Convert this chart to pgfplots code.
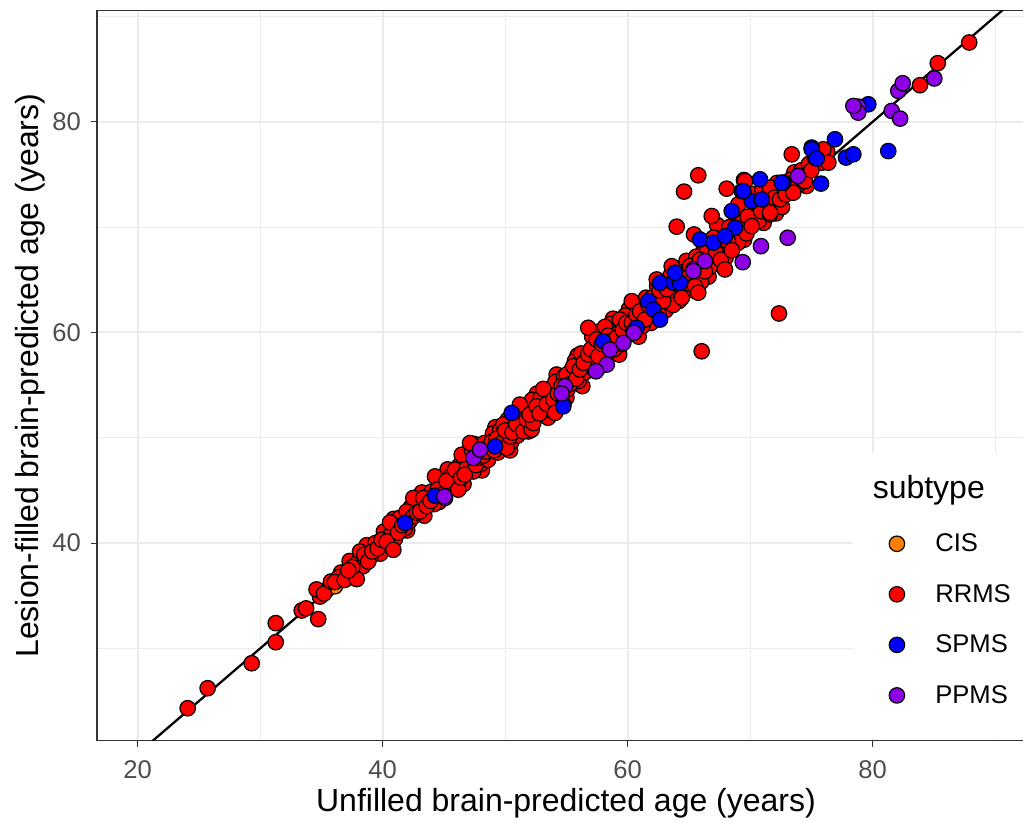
\documentclass[border=0pt]{standalone}
\usepackage{pgfplots}
\pgfplotsset{compat=1.18}
\usepackage{fontspec}
\setmainfont{Liberation Sans}
\definecolor{gridc}{HTML}{EBEBEB}
\definecolor{cisc}{HTML}{FF7F00}
\definecolor{rrc}{HTML}{FF0000}
\definecolor{spc}{HTML}{0000FF}
\definecolor{ppc}{HTML}{8C00E6}
\definecolor{framec}{HTML}{333333}
\definecolor{tickc}{HTML}{4D4D4D}
\begin{document}
\begin{tikzpicture}
\begin{axis}[
  scale only axis, width=703.5pt, height=547.5pt,
  at={(0,0)}, anchor=south west,
  xmin=16.678, xmax=93.25, ymin=21.24, ymax=90.55,
  xtick={20,40,60,80}, ytick={40,60,80},
  minor xtick={30,50,70,90}, minor ytick={30,50,70,90},
  grid=both,
  major grid style={color=gridc, line width=1.5pt},
  minor grid style={color=gridc, line width=0.8pt},
  tick pos=left,
  tick align=outside, major tick length=4.5pt, minor tick length=0pt,
  tick style={color=framec, line width=0.8pt},
  axis line style={color=framec, line width=0.8pt},
  ticklabel style={font=\fontsize{19.2}{20}\selectfont, text=tickc},
  xticklabel style={yshift=-7pt},
  yticklabel style={xshift=-4pt},
  /pgf/number format/assume math mode=true,
  xlabel={Unfilled brain-predicted age (years)},
  ylabel={Lesion-filled brain-predicted age (years)},
  label style={font=\fontsize{24}{28}\selectfont},
  xlabel style={at={(axis description cs:0.5,-0.0853)}, anchor=center},
  ylabel style={at={(axis description cs:-0.0714,0.5)}, anchor=center},
  legend style={at={(axis description cs:0.84,0.291)}, anchor=north west, draw=none, fill=none,
    font=\fontsize{19.2}{20}\selectfont, row sep=19pt,
    /tikz/every odd column/.append style={column sep=21pt}},
  legend cell align=left,
  legend image code/.code={\draw[#1] plot coordinates {(0pt,0pt)};},
  scatter/.style={only marks, mark=*, mark size=5.8pt, line width=0.9pt, draw=black},
]
\addplot[black, line width=1.7pt, no markers, forget plot] coordinates {(15,15) (95,95)};

\addplot[scatter, fill=cisc] coordinates {
(35.43,35.56) (48.76,48.39) (36.10,35.90)
};
\addlegendentry{CIS}

\addplot[scatter, fill=rrc] coordinates {
(37.30,38.30) (38.70,39.80) (39.80,39.00) (40.90,42.30) (42.00,41.20) (43.20,44.80)
(44.60,43.90) (45.30,47.00) (46.60,45.60) (47.50,49.40) (48.10,46.90) (49.20,51.00)
(50.40,48.80) (51.10,52.60) (51.90,50.60) (52.60,54.20) (53.50,51.90) (54.20,56.00)
(55.00,53.80) (55.90,57.80) (56.30,54.90) (57.10,59.60) (57.80,56.80) (58.80,61.30)
(59.30,57.90) (60.10,62.20) (60.90,59.60) (61.30,62.90) (61.90,60.90) (62.40,64.40)
(63.10,62.10) (63.50,65.40) (64.20,63.00) (64.80,66.80) (65.30,64.00) (66.20,68.30)
(66.60,65.30) (67.30,70.20) (68.00,67.10) (68.90,71.20) (69.50,68.80) (70.60,73.00)
(71.10,70.40) (72.10,71.30) (73.60,75.20) (74.60,73.90)
(36.60,37.20) (37.00,36.90) (38.00,38.20) (38.40,37.80) (39.00,38.70) (39.40,40.00)
(40.10,41.10) (40.50,40.60) (41.00,40.40) (41.40,42.40) (41.80,41.40) (42.30,43.40)
(43.00,43.70) (43.40,42.60) (44.00,44.90) (44.20,43.70) (44.70,45.70) (45.00,44.90)
(45.60,46.40) (46.00,45.70) (46.20,47.30) (46.90,47.90) (47.40,46.80) (47.70,48.80)
(48.00,47.50) (48.30,49.50) (48.60,47.90) (49.00,50.40) (49.40,48.60) (49.60,50.80)
(50.20,51.70) (50.50,49.60) (50.80,52.00) (51.00,50.20) (51.40,51.90) (51.80,52.80)
(52.20,53.60) (52.40,51.90) (52.90,53.80) (53.20,52.60) (53.60,54.60) (53.80,53.00)
(54.10,55.30) (54.40,53.60) (54.80,55.80) (55.10,54.60) (55.40,56.40) (55.70,57.30)
(56.00,55.40) (56.20,58.00) (56.50,56.20) (56.90,57.30) (57.20,56.60) (57.40,58.40)
(57.70,60.10) (58.00,57.60) (58.30,58.60) (58.60,60.80) (58.90,58.40) (59.20,59.90)
(59.50,58.90) (59.80,61.60) (60.00,59.80) (60.50,60.10) (60.80,62.40) (61.20,60.60)
(61.50,63.30) (61.80,61.60) (62.20,62.30) (62.50,61.80) (62.80,64.50) (63.00,63.20)
(63.40,63.80) (63.70,62.60) (64.10,64.60) (64.30,65.70) (64.90,64.70) (65.20,65.50)
(65.60,67.20) (66.00,64.80) (66.50,67.80) (66.70,66.20) (67.00,69.00) (67.40,68.30)
(67.80,67.60) (68.30,70.00) (68.70,69.20) (69.00,68.50) (69.30,70.40) (69.70,69.40)
(70.00,73.20) (70.30,71.10) (70.70,70.60) (71.00,73.50) (71.30,72.10) (71.80,72.20)
(72.20,74.20) (72.60,71.90) (73.00,73.80) (73.30,74.50) (73.80,73.90) (74.20,75.40)
(74.80,76.00) (75.40,77.00) (75.80,76.10) (76.30,77.10)
(24.08,24.32) (25.71,26.22) (29.31,28.59) (31.27,30.59) (31.27,32.40) (33.39,33.60)
(33.75,33.80) (34.74,32.78) (34.88,34.92) (34.60,35.60) (35.20,35.20) (35.78,36.35)
(36.43,36.77) (36.10,36.30) (36.90,36.50) (37.88,36.58) (37.52,37.72) (37.20,37.40)
(38.15,39.20) (38.50,38.90) (38.82,38.25) (39.15,39.20) (39.60,39.50) (39.90,40.30)
(40.33,40.15) (40.87,39.36) (40.60,41.96) (41.27,41.00) (41.60,41.70) (41.96,43.00)
(42.20,42.10) (42.50,44.28) (42.50,42.53) (42.80,42.90) (43.05,43.00) (43.31,44.28)
(43.60,43.50) (43.90,44.00) (44.27,46.33) (44.50,45.10) (44.80,44.60) (45.50,45.38)
(45.20,45.90) (45.90,46.97) (46.17,45.07) (46.40,46.20) (46.86,47.13) (46.45,48.39)
(46.70,46.50) (47.27,48.87) (47.13,49.50) (47.60,47.40) (47.80,48.10) (48.20,48.30)
(48.50,49.00) (48.40,48.70) (48.90,49.60) (49.10,48.80) (49.30,49.90) (49.71,49.50)
(50.12,49.03) (50.39,50.13) (49.84,51.24) (50.00,50.70) (50.60,50.50) (50.90,51.30)
(51.48,50.60) (51.20,53.15) (51.76,51.72) (52.16,50.77) (52.29,51.40) (52.00,52.20)
(52.57,52.98) (52.80,52.30) (53.11,54.64) (53.40,53.20) (53.93,53.62) (54.07,52.36)
(54.30,54.20) (54.60,54.90) (55.02,56.00) (55.30,55.10) (55.56,56.79) (55.80,55.60)
(56.10,56.47) (56.40,57.10) (56.78,57.90) (56.78,60.44) (57.00,58.40) (57.47,59.33)
(57.60,57.74) (57.90,58.90) (58.15,60.53) (58.40,59.70) (58.70,59.20) (59.10,59.49)
(59.37,61.22) (59.60,60.20) (59.90,60.90) (60.33,60.91) (60.33,62.97) (60.70,61.70)
(61.00,62.00) (61.41,61.22) (61.70,62.60) (62.00,63.30) (62.37,65.03) (62.90,62.97)
(62.60,64.00) (63.20,64.10) (63.59,66.29) (63.80,65.00) (64.00,70.04) (64.41,63.29)
(64.60,73.37) (64.70,65.60) (65.10,66.30) (65.41,69.30) (65.49,64.39) (65.76,74.92)
(65.76,63.77) (65.90,66.90) (66.04,58.21) (66.30,65.80) (66.86,71.05) (67.20,67.50)
(67.60,66.90) (67.94,65.98) (68.08,73.65) (68.20,68.60) (68.50,67.80) (69.03,72.16)
(69.49,74.47) (69.58,74.37) (69.80,71.00) (70.12,70.09) (70.40,72.40) (70.90,71.50)
(71.62,71.21) (71.62,73.75) (71.62,71.37) (72.00,72.80) (72.35,61.80) (72.43,72.63)
(72.90,73.10) (73.39,76.91) (73.52,73.27) (74.00,74.90) (74.34,74.37) (74.47,74.37)
(75.00,75.40) (75.97,77.39) (76.38,76.12) (83.86,83.47) (85.31,85.56) (87.88,87.53)
};
\addlegendentry{RRMS}

\addplot[scatter, fill=spc] coordinates {
(41.82,41.90) (44.27,44.50) (49.17,49.18) (50.53,52.36) (54.75,53.15) (54.74,52.98)
(58.00,59.16) (60.46,60.11) (60.73,60.44) (61.68,62.97) (62.09,62.18) (62.64,61.22)
(63.72,64.71) (64.27,64.71) (63.86,65.67) (62.64,64.71) (65.90,68.83) (66.99,68.52)
(68.76,69.94) (68.49,71.52) (69.31,73.42) (70.12,72.47) (70.94,72.63) (72.70,74.22)
(75.02,77.55) (75.29,76.60) (67.94,69.15) (75.02,77.39) (75.43,76.50) (76.92,78.34)
(77.82,76.60) (78.42,76.91) (75.78,74.13) (79.64,81.66) (81.27,77.22) (72.57,74.22)
(70.80,74.54) (69.44,73.42)
};
\addlegendentry{SPMS}

\addplot[scatter, fill=ppc] coordinates {
(45.09,44.28) (47.40,48.08) (47.94,48.87) (54.88,54.89) (54.60,54.20) (58.29,56.95)
(58.56,58.37) (57.41,56.31) (65.36,66.00) (66.31,66.77) (65.36,65.82) (69.39,66.67)
(70.88,68.19) (73.06,68.99) (60.51,59.96) (59.64,59.01) (73.90,74.85) (78.82,81.44)
(78.82,80.87) (81.55,81.03) (82.24,80.30) (82.09,82.93) (82.45,83.66) (85.03,84.11)
(78.42,81.50) (45.03,44.43)
};
\addlegendentry{PPMS}

\fill[white] (axis cs:78.39,21.40) rectangle (axis cs:93.5,48.58);
\node[anchor=west, font=\fontsize{24}{28}\selectfont, text=black] at (axis description cs:0.822,0.3434) {subtype};
\end{axis}
\pgfresetboundingbox
\path[use as bounding box] (-72.75pt,-60.2pt) rectangle (694.5pt,555.5pt);
\end{tikzpicture}
\end{document}
